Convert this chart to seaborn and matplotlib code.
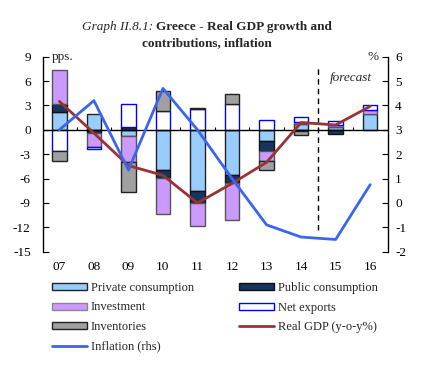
import numpy as np
import matplotlib
matplotlib.use("Agg")
import matplotlib.pyplot as plt
import seaborn as sns
from matplotlib.patches import Patch
from matplotlib.lines import Line2D

# data (pps. contributions, left axis)
years = ['07', '08', '09', '10', '11', '12', '13', '14', '15', '16']
private = [2.2, 1.9, -0.7, -5.0, -7.5, -5.6, -1.4, 0.7, 0.4, 1.9]
public = [1.0, -0.4, 0.3, -0.9, -1.5, -1.0, -1.2, -0.2, -0.5, 0.0]
investment = [4.2, -1.7, -3.2, -4.5, -2.9, -4.5, -1.2, 0.3, 0.25, 0.6]
net_exports = [-2.6, -0.3, 2.9, 2.3, 2.6, 3.2, 1.2, 0.6, 0.45, 0.6]
inventories = [-1.2, 0.0, -3.7, 2.5, 0.15, 1.2, -1.2, -0.45, 0.0, 0.0]
gdp = [3.5, -0.4, -4.4, -5.6, -9.0, -6.6, -4.0, 0.9, 0.6, 2.9]
# inflation, right axis (%)
inflation = [3.0, 4.2, 1.35, 4.7, 3.0, 1.0, -0.9, -1.4, -1.5, 0.75]

sns.set_style("white")
plt.rcParams['font.family'] = ['Liberation Serif', 'DejaVu Serif']
plt.rcParams['axes.unicode_minus'] = False

fig = plt.figure(figsize=(4.27, 3.86), dpi=100)
ax = fig.add_axes([0.101, 0.348, 0.808, 0.505])
x = np.arange(len(years))
width = 0.42

series = [
    (private, 'Private consumption', '#99CCFF', '#222222'),
    (public, 'Public consumption', '#17365D', '#111111'),
    (investment, 'Investment', '#CC99FF', '#555555'),
    (net_exports, 'Net exports', '#FFFFFF', '#0000FF'),
    (inventories, 'Inventories', '#A0A0A0', '#222222'),
]
pos_b = np.zeros(len(x))
neg_b = np.zeros(len(x))
for vals, name, fc, ec in series:
    v = np.array(vals)
    bottom = np.where(v >= 0, pos_b, neg_b)
    m = v != 0
    ax.bar(x[m], v[m], width, bottom=bottom[m], color=fc, edgecolor=ec, linewidth=1, zorder=2)
    pos_b += np.clip(v, 0, None)
    neg_b += np.clip(v, None, 0)

sns.lineplot(x=x, y=gdp, ax=ax, color='#993333', linewidth=2, zorder=4)
ax.axhline(0, color='black', linewidth=1, zorder=3)
ax.vlines(np.arange(0.5, 9), 0, 0.4, color='black', linewidth=0.8, zorder=3)
ax.vlines(7.5, -12.3, 7.8, color='black', linewidth=1, linestyles=(0, (4, 3)), zorder=3)
ax.text(8.45, 6.4, 'forecast', style='italic', ha='center', va='center', fontsize=9.5)
ax.text(0.025, 1.0, 'pps.', transform=ax.transAxes, ha='left', va='center', fontsize=9.5)
ax.text(0.94, 1.0, '%', transform=ax.transAxes, ha='left', va='center', fontsize=9.5)

ax.set_xlim(-0.47, 9.52)
ax.set_ylim(-15, 9)
ax.set_yticks(range(-15, 10, 3))
ax.set_xticks(x, years)
ax.tick_params(axis='y', direction='in', length=4, pad=9, labelsize=9.5, left=True, colors='black')
ax.tick_params(axis='x', length=0, pad=7, labelsize=9.5, colors='black')
for s in ['top', 'bottom', 'right']:
    ax.spines[s].set_visible(False)
ax.spines['left'].set_color('black')
ax.spines['left'].set_linewidth(1)

ax2 = ax.twinx()
sns.lineplot(x=x, y=inflation, ax=ax2, color='#3A66EE', linewidth=2, zorder=5)
ax2.set_ylim(-2, 6)
ax2.set_yticks(range(-2, 7))
ax2.tick_params(axis='y', direction='in', length=4, pad=5, labelsize=9.5, right=True, colors='black')
for s in ['top', 'bottom', 'left']:
    ax2.spines[s].set_visible(False)
ax2.spines['right'].set_color('black')
ax2.spines['right'].set_linewidth(1)
ax2.set_ylabel('')

fig.text(153 / 427, 1 - 27 / 386, 'Graph II.8.1:', style='italic', ha='right', va='center', fontsize=9.5)
fig.text(156 / 427, 1 - 27 / 386, 'Greece - Real GDP growth and', weight='bold', ha='left', va='center', fontsize=9.5)
fig.text(207 / 427, 1 - 43 / 386, 'contributions, inflation', weight='bold', ha='center', va='center', fontsize=9.5)

h = {
    'Private consumption': Patch(facecolor='#99CCFF', edgecolor='#222222', linewidth=1),
    'Public consumption': Patch(facecolor='#17365D', edgecolor='#111111', linewidth=1),
    'Investment': Patch(facecolor='#CC99FF', edgecolor='#888888', linewidth=1),
    'Net exports': Patch(facecolor='#FFFFFF', edgecolor='#0000FF', linewidth=1),
    'Inventories': Patch(facecolor='#A0A0A0', edgecolor='#222222', linewidth=1),
    'Real GDP (y-o-y%)': Line2D([], [], color='#993333', linewidth=2),
    'Inflation (rhs)': Line2D([], [], color='#3A66EE', linewidth=2),
}
order = ['Private consumption', 'Investment', 'Inventories', 'Inflation (rhs)',
         'Public consumption', 'Net exports', 'Real GDP (y-o-y%)']
fig.legend([h[k] for k in order], order, loc='upper left', bbox_to_anchor=(52 / 427, 1 - 282 / 386),
           ncol=2, frameon=False, fontsize=9, handlelength=2.8, handleheight=0.5,
           handletextpad=0.3, columnspacing=3.6, labelspacing=0.6, borderpad=0, borderaxespad=0)

fig.savefig('out.png', dpi=100)
